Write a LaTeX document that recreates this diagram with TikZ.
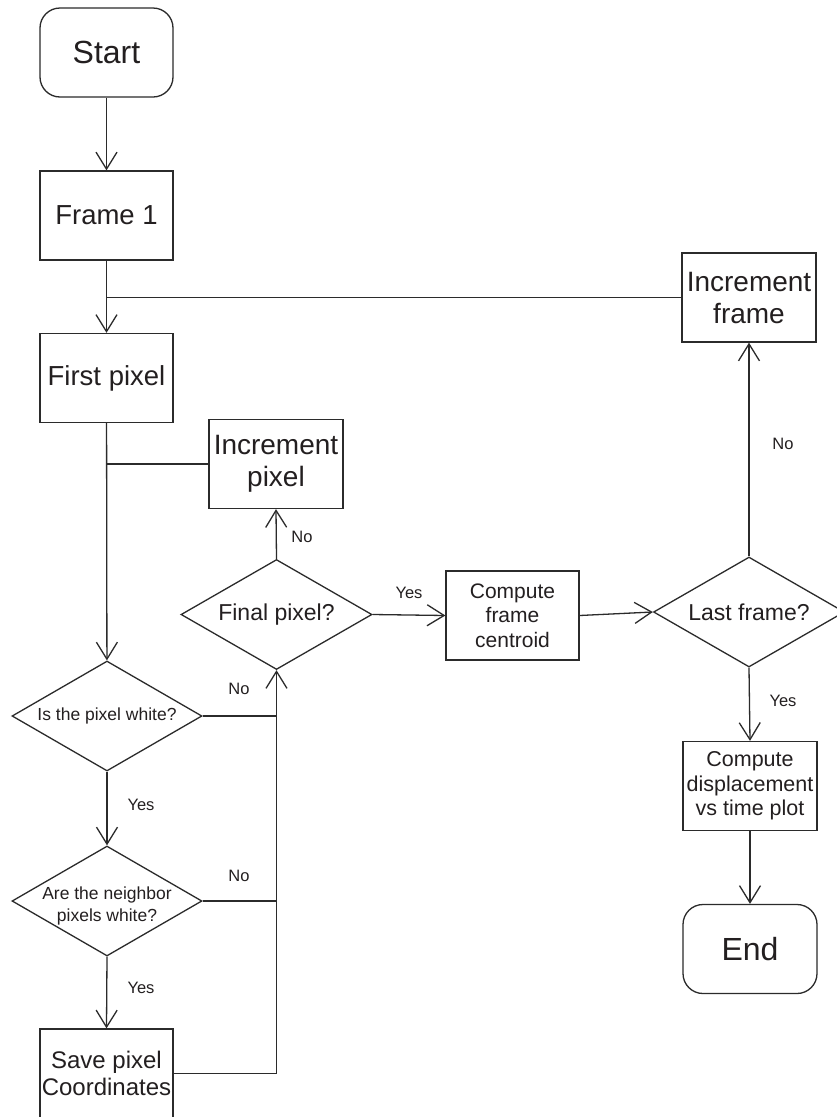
\documentclass[tikz,border=0pt]{standalone}
\usepackage{fontspec}
\setmainfont{Liberation Sans}
\usetikzlibrary{arrows.meta,shapes.geometric,positioning}
\definecolor{ln}{HTML}{2B2B2B}
\definecolor{tx}{HTML}{231F20}
\begin{document}
\begin{tikzpicture}[x=1pt,y=-1pt,
  every node/.style={text=tx},
  conn/.style={draw=ln,line width=1.3pt},
  arr/.style={conn,-{Straight Barb[length=17pt,width=21pt,line width=1.3pt]}},
  term/.style={draw=ln,line width=1.3pt,rounded corners=20pt,minimum width=133pt,minimum height=89pt,inner sep=0pt,font=\fontsize{32}{36}\selectfont},
  procbox/.style={draw=ln,line width=1.3pt,minimum width=134pt,minimum height=89pt,inner sep=0pt,align=center},
  decision/.style={draw=ln,line width=1.3pt,diamond,inner sep=0pt,minimum width=191pt,minimum height=110pt},
  lbl/.style={font=\fontsize{16.5}{18}\selectfont,inner sep=0pt}
]
\clip (0,0) rectangle (837,1117);
\fill[white] (0,0) rectangle (837,1117);

\node[term] (start) at (106.5,52.5) {Start};
\node[procbox,minimum width=133pt,font=\fontsize{27.5}{32}\selectfont] (frame1) at (106.5,215.5) {Frame 1};
\node[procbox,minimum width=133pt,font=\fontsize{27.5}{32}\selectfont] (first) at (106.5,378) {First pixel};
\node[procbox,font=\fontsize{28}{32}\selectfont] (incp) at (276,464) {Increment\\pixel};
\node[procbox,font=\fontsize{28}{32}\selectfont] (incf) at (749,297.5) {Increment\\frame};
\node[decision,label={[font=\fontsize{23}{26}\selectfont]center:Final pixel?}] (final) at (276.5,614.5) {};
\node[decision,minimum width=190pt,label={[font=\fontsize{17.5}{20}\selectfont]center:Is the pixel white?}] (white) at (107,716) {};
\node[decision,minimum width=190pt,label={[font=\fontsize{17.5}{22}\selectfont,align=center,yshift=-5pt]center:Are the neighbor\\pixels white?}] (neigh) at (107,901) {};
\node[procbox,minimum width=133pt,font=\fontsize{24}{27}\selectfont] (save) at (106.5,1073.5) {Save pixel\\Coordinates};
\node[procbox,minimum width=133pt,font=\fontsize{21}{24.5}\selectfont] (cent) at (512.5,615.5) {Compute\\frame\\centroid};
\node[decision,label={[font=\fontsize{23}{26}\selectfont]center:Last frame?}] (last) at (749,612) {};
\node[procbox,font=\fontsize{21.5}{24.5}\selectfont] (disp) at (750,786) {Compute\\displacement\\vs time plot};
\node[term,minimum width=134pt] (end) at (750,949) {End};

\draw[arr] (start) -- (frame1);
\draw[arr] (frame1) -- (first);
\draw[conn] (incf.west) -- (incf.west -| first.north);
\draw[arr] (first) -- (white);
\draw[conn] (incp.west) -- (incp.west -| first.south);
\draw[arr] (final.north) -- (incp.south);
\draw[arr] (final.east) -- (cent.west);
\draw[arr] (cent.east) -- (last.west);
\draw[arr] (last.north) -- (incf.south);
\draw[arr] (last.south) -- (disp.north);
\draw[arr] (disp.south) -- (end.north);
\draw[arr] (white.south) -- (neigh.north);
\draw[arr] (neigh.south) -- (save.north);
\draw[conn] (white.east) -- (white.east -| final.south);
\draw[conn] (neigh.east) -- (neigh.east -| final.south);
\draw[arr] (save.east) -| (final.south);

\node[lbl] (l1) at (302,537) {No};
\node[lbl] (l2) at (239,689) {No};
\node[lbl] (l3) at (239,876) {No};
\node[lbl] (l4) at (783,444) {No};
\node[lbl] (l5) at (141,805) {Yes};
\node[lbl] (l6) at (141,988) {Yes};
\node[lbl] (l7) at (409,593) {Yes};
\node[lbl] (l8) at (783,701) {Yes};
\end{tikzpicture}
\end{document}
